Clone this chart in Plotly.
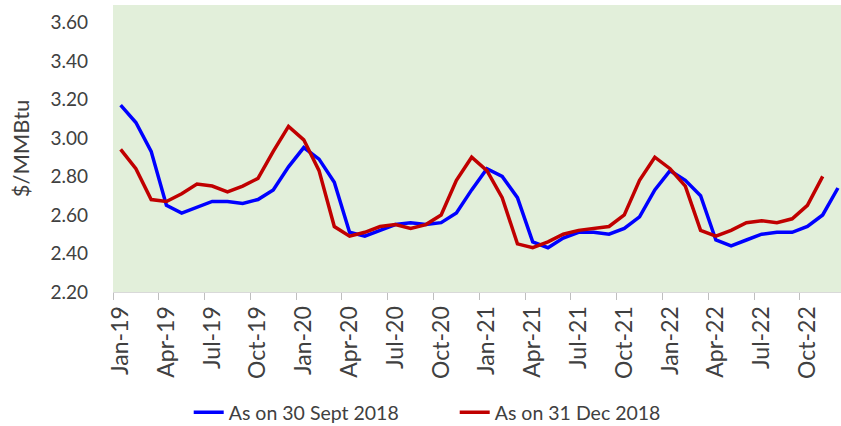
import plotly.graph_objects as go

months = ["Jan-19", "Feb-19", "Mar-19", "Apr-19", "May-19", "Jun-19", "Jul-19", "Aug-19", "Sep-19", "Oct-19", "Nov-19", "Dec-19",
          "Jan-20", "Feb-20", "Mar-20", "Apr-20", "May-20", "Jun-20", "Jul-20", "Aug-20", "Sep-20", "Oct-20", "Nov-20", "Dec-20",
          "Jan-21", "Feb-21", "Mar-21", "Apr-21", "May-21", "Jun-21", "Jul-21", "Aug-21", "Sep-21", "Oct-21", "Nov-21", "Dec-21",
          "Jan-22", "Feb-22", "Mar-22", "Apr-22", "May-22", "Jun-22", "Jul-22", "Aug-22", "Sep-22", "Oct-22", "Nov-22", "Dec-22"]

sept_2018 = [3.17, 3.08, 2.93, 2.65, 2.61, 2.64, 2.67, 2.67, 2.66, 2.68, 2.73, 2.85,
             2.95, 2.89, 2.77, 2.51, 2.49, 2.52, 2.55, 2.56, 2.55, 2.56, 2.61, 2.73,
             2.84, 2.80, 2.69, 2.46, 2.43, 2.48, 2.51, 2.51, 2.50, 2.53, 2.59, 2.73,
             2.83, 2.78, 2.70, 2.47, 2.44, 2.47, 2.50, 2.51, 2.51, 2.54, 2.60, 2.74]

dec_2018 = [2.94, 2.84, 2.68, 2.67, 2.71, 2.76, 2.75, 2.72, 2.75, 2.79, 2.93, 3.06,
            2.99, 2.83, 2.54, 2.49, 2.51, 2.54, 2.55, 2.53, 2.55, 2.60, 2.78, 2.90,
            2.83, 2.69, 2.45, 2.43, 2.46, 2.50, 2.52, 2.53, 2.54, 2.60, 2.78, 2.90,
            2.84, 2.75, 2.52, 2.49, 2.52, 2.56, 2.57, 2.56, 2.58, 2.65, 2.80]

font = "Lato, Arial, sans-serif"
grey = "#404040"

fig = go.Figure()
fig.add_trace(go.Scatter(x=months[:len(sept_2018)], y=sept_2018, mode="lines",
                         name="As on 30 Sept 2018", line=dict(color="#0000FF", width=3.5)))
fig.add_trace(go.Scatter(x=months[:len(dec_2018)], y=dec_2018, mode="lines",
                         name="As on 31 Dec 2018", line=dict(color="#C00000", width=3.5)))

fig.update_layout(
    width=841, height=426,
    margin=dict(l=113, r=0, t=5, b=134, autoexpand=False),
    paper_bgcolor="white",
    plot_bgcolor="#E2EFDA",
    font=dict(family=font, color=grey),
    showlegend=True,
    legend=dict(orientation="h", x=0.104, xanchor="left", y=-0.42, yanchor="middle",
                font=dict(size=19.5, color=grey), entrywidth=221, entrywidthmode="pixels"),
    xaxis=dict(
        type="category", range=[-0.5, 47.2], automargin=False,
        tickmode="linear", tick0=0, dtick=3,
        tickson="boundaries", ticks="outside", ticklen=7, tickcolor="#BFBFBF",
        tickangle=-90, tickfont=dict(size=23, color=grey), ticklabelstandoff=4,
        showgrid=False, showline=True, linecolor="#D9D9D9", zeroline=False,
    ),
    yaxis=dict(
        range=[2.2, 3.69], tickmode="linear", tick0=2.2, dtick=0.2, tickformat=".2f",
        tickfont=dict(size=19, color=grey), ticklabelstandoff=24, automargin=False,
        showgrid=False, zeroline=False, showline=False,
        title=dict(text="$/MMBtu", font=dict(size=22, color=grey), standoff=14),
    ),
)

# the page body has a default 8px margin; drop it so the figure fills the window
fig.write_html("out.html", config={"displayModeBar": False},
               post_script="document.body.style.margin='0px';")
